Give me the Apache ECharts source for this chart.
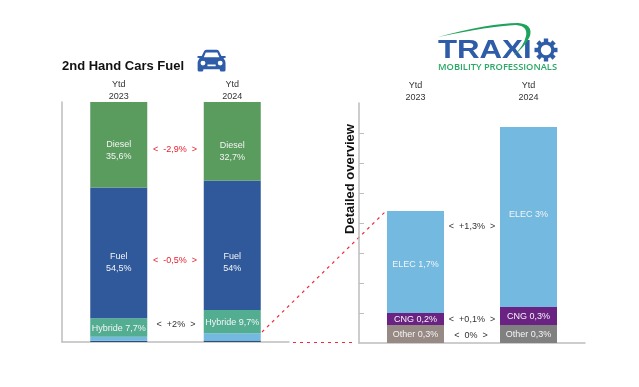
<!DOCTYPE html>
<html>
<head>
<meta charset="utf-8">
<style>
html, body { margin: 0; padding: 0; background: #fff; }
#main { width: 639px; height: 387px; }
</style>
<script src="https://cdn.jsdelivr.net/npm/echarts@6/dist/echarts.min.js"></script>
</head>
<body>
<div id="main"></div>
<script>
// data
var years = ['Ytd\n2023', 'Ytd\n2024'];
var mainOther = [0.5, 0.6];
var mainElec = [1.7, 3];
var mainHybrid = [7.7, 9.7];
var mainFuel = [54.5, 54];
var mainDiesel = [35.6, 32.7];
var detailOther = [0.3, 0.3];
var detailCng = [0.2, 0.3];
var detailElec = [1.7, 3];
var detailTicks = [0.5, 1, 1.5, 2, 2.5, 3, 3.5];
var hybridLabels = ['Hybride 7,7%', 'Hybride 9,7%'];
var fuelLabels = ['Fuel\n54,5%', 'Fuel\n54%'];
var dieselLabels = ['Diesel\n35,6%', 'Diesel\n32,7%'];
var otherLabels = ['Other 0,3%', 'Other 0,3%'];
var cngLabels = ['CNG 0,2%', 'CNG 0,3%'];
var elecLabels = ['ELEC 1,7%', 'ELEC 3%'];
var mainDeltas = ['<  -2,9%  >', '<  -0,5%  >', '<  +2%  >'];
var detailDeltas = ['<  +1,3%  >', '<  +0,1%  >', '<  0%  >'];

var font = '"Liberation Sans", Arial, sans-serif';
var axisGrey = '#bdbdbd';

// one stacked bar series, each value with its label
function barSeries(axisIdx, stackName, values, color, labels, offsets) {
	return {
		type : 'bar',
		xAxisIndex : axisIdx,
		yAxisIndex : axisIdx,
		stack : stackName,
		barWidth : 57,
		silent : true,
		animation : false,
		data : values.map(function(v, i) {
			return {
				value : v,
				itemStyle : {
					color : Array.isArray(color) ? color[i] : color
				},
				label : {
					show : !!labels,
					formatter : labels ? labels[i] : '',
					color : '#f4f4f4',
					fontSize : 9,
					lineHeight : 12,
					fontFamily : font,
					offset : offsets ? [ 0, offsets[i] ] : [ 0, 1 ]
				}
			};
		})
	};
}

function deltaText(x, y, text, color) {
	return {
		type : 'text',
		x : x,
		y : y,
		style : {
			text : text,
			fill : color,
			font : '9px ' + font,
			align : 'center',
			verticalAlign : 'middle'
		}
	};
}

function dashLine(x1, y1, x2, y2) {
	return {
		type : 'line',
		shape : { x1 : x1, y1 : y1, x2 : x2, y2 : y2 },
		style : { stroke : '#f02a3c', lineWidth : 1.2, lineDash : [ 3, 4 ] }
	};
}

// icon shapes
var carPath = 'M7 9 L10 2.5 Q11 1 13 1 L25 1 Q27 1 28 2.5 L31 9 L35 9 Q37 9 36.5 11 L33.5 12 L35 14 Q36 16 36 18 L36 27 Q36 29 34 29 L31 29 Q29 29 29 27 L29 26 L9 26 L9 27 Q9 29 7 29 L4 29 Q2 29 2 27 L2 18 Q2 16 3 14 L4.5 12 L1.5 11 Q1 9 3 9 Z '
	+ 'M12 4.5 L9.5 10.5 L28.5 10.5 L26 4.5 Z '
	+ 'M8.5 15 A3 3 0 1 0 8.5 21 A3 3 0 1 0 8.5 15 Z '
	+ 'M29.5 15 A3 3 0 1 0 29.5 21 A3 3 0 1 0 29.5 15 Z '
	+ 'M14 20 L14 22 L24 22 L24 20 Z';
var swooshPath = 'M438 37 Q490 23 518 23 Q533 24 530 36 Q526 46 513 56 Q524 46 526 36 Q528 26 516 25 Q490 26 438 37 Z';
echarts.graphic.registerShape('carIcon', echarts.graphic.extendPath(carPath, {}));
echarts.graphic.registerShape('swoosh', echarts.graphic.extendPath(swooshPath, {}));

// gear teeth of the logo
var gearTeeth = [];
for (var t = 0; t < 8; t++) {
	gearTeeth.push({
		type : 'rect',
		x : 546,
		y : 50,
		rotation : t * Math.PI / 4,
		shape : { x : -2.2, y : -11.5, width : 4.4, height : 4 },
		style : { fill : '#2f5ca8' }
	});
}

var graphics = [
	{
		type : 'text',
		x : 62,
		y : 66,
		style : {
			text : '2nd Hand Cars Fuel',
			fill : '#111',
			font : 'bold 13px ' + font,
			verticalAlign : 'middle'
		}
	},
	{
		type : 'carIcon',
		x : 196,
		y : 49,
		scaleX : 0.82,
		scaleY : 0.78,
		style : { fill : '#2f5ca8', fillRule : 'evenodd' }
	},
	{
		type : 'text',
		x : 350,
		y : 179,
		rotation : Math.PI / 2,
		style : {
			text : 'Detailed overview',
			fill : '#111',
			font : 'bold 13px ' + font,
			align : 'center',
			verticalAlign : 'middle'
		}
	},
	deltaText(175, 150, mainDeltas[0], '#e8202e'),
	deltaText(175, 261, mainDeltas[1], '#e8202e'),
	deltaText(176, 325, mainDeltas[2], '#333'),
	deltaText(472, 227, detailDeltas[0], '#333'),
	deltaText(472, 320, detailDeltas[1], '#333'),
	deltaText(471, 336, detailDeltas[2], '#333'),
	dashLine(262, 332, 386, 211),
	dashLine(293, 342.5, 356, 342.5),
	// logo
	{
		type : 'text',
		x : 438,
		y : 51,
		scaleX : 1.2,
		style : {
			text : 'TRAXI',
			fill : '#2f5ca8',
			font : 'bold 26px ' + font,
			verticalAlign : 'middle'
		}
	},
	{
		type : 'swoosh',
		style : { fill : '#1fa35c' }
	},
	{
		type : 'ring',
		shape : { cx : 546, cy : 50, r : 8.5, r0 : 5.2 },
		style : { fill : '#2f5ca8' }
	}
].concat(gearTeeth).concat([
	{
		type : 'text',
		x : 438,
		y : 67,
		style : {
			text : 'MOBILITY PROFESSIONALS',
			fill : '#2aa866',
			font : '600 9.3px "Open Sans", sans-serif',
			verticalAlign : 'middle'
		}
	}
]);

function xAxes(gridIdx) {
	return [ {
		type : 'category',
		gridIndex : gridIdx,
		data : years,
		axisLine : { lineStyle : { color : axisGrey, width : 1.5 } },
		axisTick : { show : false },
		axisLabel : { show : false }
	}, {
		type : 'category',
		gridIndex : gridIdx,
		position : 'top',
		data : years,
		axisLine : { show : false },
		axisTick : { show : false },
		axisLabel : {
			color : '#333',
			fontSize : 9,
			lineHeight : 12,
			fontFamily : font,
			margin : -1
		}
	} ];
}

var chart = echarts.init(document.getElementById('main'), null, { renderer : 'canvas' });
var option = {
	backgroundColor : '#fff',
	animation : false,
	grid : [
		{ left : 62, top : 102, width : 227, height : 240 },
		{ left : 359, top : 103, width : 226, height : 240 }
	],
	xAxis : xAxes(0).concat(xAxes(1)),
	yAxis : [ {
		type : 'value',
		gridIndex : 0,
		min : 0,
		max : 100,
		axisLine : { show : true, lineStyle : { color : axisGrey, width : 1.5 } },
		axisTick : { show : false },
		axisLabel : { show : false },
		splitLine : { show : false }
	}, {
		// placeholder so the second grid can use index 2 on both axes
		type : 'value',
		gridIndex : 0,
		show : false,
		splitLine : { show : false }
	}, {
		type : 'value',
		gridIndex : 1,
		min : 0,
		max : 4,
		interval : 0.5,
		axisLine : { show : true, lineStyle : { color : axisGrey, width : 1.5 } },
		axisTick : {
			show : true,
			inside : true,
			length : 5,
			customValues : detailTicks,
			lineStyle : { color : axisGrey }
		},
		axisLabel : { show : false },
		splitLine : { show : false }
	} ],
	series : [
		barSeries(0, 'main', mainOther, '#2a5080'),
		barSeries(0, 'main', mainElec, '#74b9e0'),
		barSeries(0, 'main', mainHybrid, '#52ad91', hybridLabels),
		barSeries(0, 'main', mainFuel, '#30599b', fuelLabels, [ 10, 17 ]),
		barSeries(0, 'main', mainDiesel, '#5a9b5e', dieselLabels, [ 6, 10 ]),
		barSeries(2, 'detail', detailOther, [ '#978a84', '#808080' ], otherLabels),
		barSeries(2, 'detail', detailCng, '#6a2383', cngLabels),
		barSeries(2, 'detail', detailElec, '#74b9e0', elecLabels, [ 3, -2 ])
	],
	graphic : graphics
};
chart.setOption(option);
</script>
</body>
</html>
